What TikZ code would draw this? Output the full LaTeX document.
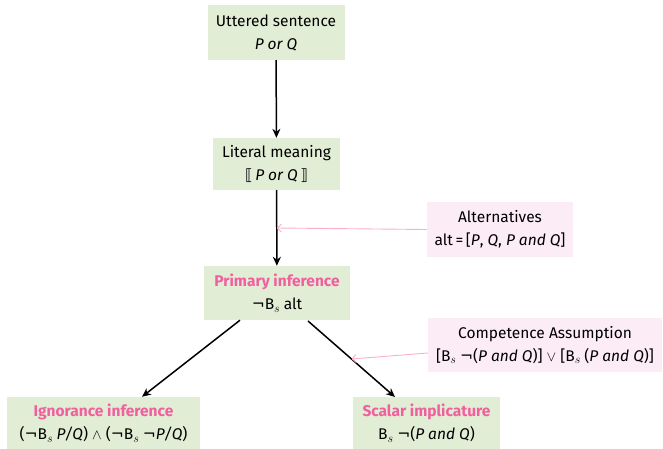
\documentclass[tikz,border=0pt]{standalone}
\usepackage{fontspec}
\setmainfont{Fira Sans}
\newfontfamily\symf{DejaVu Sans}
\usetikzlibrary{arrows.meta}
\definecolor{boxgreen}{RGB}{226,237,213}
\definecolor{boxpink}{RGB}{252,236,246}
\definecolor{hotpink}{RGB}{240,96,158}
\definecolor{linkpink}{RGB}{250,175,205}
\newcommand{\Bs}{B\raisebox{-0.35ex}{\fontsize{12}{12}\selectfont$s$}}
\newcommand{\nt}{{\symf ¬}}
\newcommand{\itx}[1]{\textit{#1}}
\begin{document}
\begin{tikzpicture}[x=1pt,y=-1pt,
  greenbox/.style={fill=boxgreen,draw=none,align=center,inner sep=0pt,font=\fontsize{15.5}{23}\selectfont},
  pinkbox/.style={fill=boxpink,draw=none,align=center,inner sep=0pt,font=\fontsize{15.5}{23}\selectfont},
  mainarrow/.style={-{Stealth[length=9pt,width=8pt]},line width=1.5pt,black},
  pinkarrow/.style={-{Straight Barb[length=4pt,width=8pt]},line width=0.9pt,linkpink}]
\useasboundingbox (0,0) rectangle (663,449);
\node[greenbox,minimum width=137pt,minimum height=55pt] (utter) at (276,32.5) {Uttered sentence\\\itx{P or Q}};
\node[greenbox,minimum width=127pt,minimum height=52pt] (literal) at (276.5,164) {Literal meaning\\{\symf ⟦}\,\itx{P or Q}\,{\symf ⟧}};
\node[pinkbox,minimum width=146pt,minimum height=55pt] (alt) at (500,229.5) {Alternatives\\alt\,=\,[\itx{P}, \itx{Q}, \itx{P and Q}]};
\node[greenbox,minimum width=146pt,minimum height=54pt] (primary) at (277,293) {\textbf{\textcolor{hotpink}{Primary inference}}\\\nt\Bs\ alt};
\node[pinkbox,minimum width=234pt,minimum height=54pt] (comp) at (545,345) {Competence Assumption\\{[}\Bs\ \nt(\itx{P and Q})] $\vee$ [\Bs\ (\itx{P and Q})]};
\node[greenbox,minimum width=193pt,minimum height=52pt] (ignor) at (103.5,423) {\textbf{\textcolor{hotpink}{Ignorance inference}}\\(\nt\Bs\ \itx{P/Q}) $\wedge$ (\nt\Bs\ \nt\itx{P/Q})};
\node[greenbox,minimum width=147pt,minimum height=52pt] (scalar) at (426.5,423) {\textbf{\textcolor{hotpink}{Scalar implicature}}\\\Bs\ \nt(\itx{P and Q})};
\draw[mainarrow] (utter) -- (literal);
\draw[mainarrow] (literal) -- coordinate[pos=0.5] (m1) (primary);
\draw[mainarrow] (primary.south -| 240,0) -- (ignor.north -| 142,0);
\coordinate (ps) at (308,321);
\coordinate (st) at (395,397);
\draw[mainarrow] (ps) -- coordinate[pos=0.5] (m2) (st);
\draw[pinkarrow] (alt.west) -- (m1);
\draw[pinkarrow] (comp.west |- 0,353) -- (m2);
\end{tikzpicture}
\end{document}
